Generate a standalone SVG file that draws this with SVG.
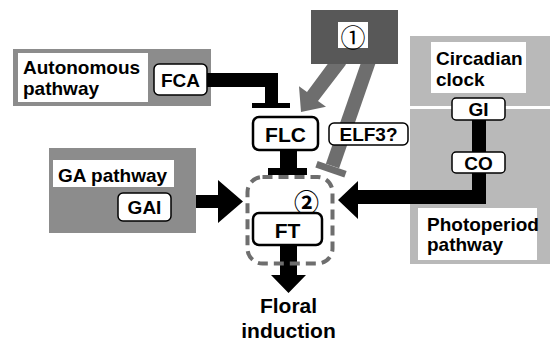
<svg xmlns="http://www.w3.org/2000/svg" width="550" height="343" viewBox="0 0 550 343">
<style>
.t{font-family:"Liberation Sans",Arial,sans-serif;font-weight:bold;fill:#000}
.lbl{font-size:19px}
.big{font-size:21px}
.mid{text-anchor:middle}
.box{fill:#fff;stroke:#000;stroke-width:1.5}
.boxb{fill:#fff;stroke:#000;stroke-width:2.5}
.wht{fill:#fff}
.cj{font-family:"Noto Sans CJK JP","Noto Sans CJK SC",sans-serif;text-anchor:middle;fill:#000}
</style>
<rect width="550" height="343" fill="#fff"/>

<g id="autonomous">
<rect x="13" y="49" width="198" height="57" fill="#8c8c8c"/>
<rect x="18" y="53" width="130" height="49" class="wht"/>
<text x="23" y="74" class="t lbl">Autonomous</text>
<text x="23" y="95" class="t lbl">pathway</text>
</g>
<g id="FCA">
<rect x="154" y="64" width="53" height="31" rx="5" class="box"/>
<text x="180.5" y="87" class="t lbl mid">FCA</text>
</g>

<g id="ga">
<rect x="49" y="148" width="147" height="85" fill="#8c8c8c"/>
<rect x="53" y="160" width="121" height="27" class="wht"/>
<text x="58" y="182" class="t lbl">GA pathway</text>
</g>
<g id="GAI">
<rect x="118" y="193" width="53" height="28" rx="5" class="box"/>
<text x="144.5" y="214" class="t lbl mid">GAI</text>
</g>

<g id="circadian">
<rect x="410" y="36" width="140" height="70" fill="#b9b9b9"/>
<rect x="431" y="42" width="95" height="51" class="wht"/>
<text x="436" y="65" class="t lbl">Circadian</text>
<text x="436" y="86" class="t lbl">clock</text>
</g>
<g id="photoperiod">
<rect x="410" y="109" width="140" height="155" fill="#b9b9b9"/>
<rect x="418" y="208" width="119" height="52" class="wht"/>
<text x="427" y="231" class="t lbl">Photoperiod</text>
<text x="427" y="251" class="t lbl">pathway</text>
</g>

<g id="connectors">
<!-- gray arrows from box 1 -->
<polygon points="334,55.5 307,92 299,86.3 301,112 326,106.7 318,101 346,64.5" fill="#6e6e6e"/>
<line x1="370" y1="58" x2="332.5" y2="166" stroke="#6e6e6e" stroke-width="14"/>
<line x1="316.5" y1="164.3" x2="345.5" y2="174.3" stroke="#6e6e6e" stroke-width="7"/>
<!-- FCA inhibits FLC -->
<polygon points="207,73 278,73 278,103 265,103 265,87 207,87" fill="#000"/>
<rect x="252" y="103" width="38" height="5" fill="#000"/>
<!-- FLC inhibits FT -->
<rect x="280" y="150" width="17" height="18" fill="#000"/>
<rect x="268" y="168" width="39" height="7" fill="#000"/>
<!-- GA arrow -->
<polygon points="196,195 218,195 218,180 243,201.5 218,223 218,208 196,208" fill="#000"/>
<!-- photoperiod arrow -->
<rect x="472" y="120" width="14" height="32" fill="#000"/>
<polygon points="486,173 486,204 358,204 358,219 338,200 358,181 358,190 472,190 472,173" fill="#000"/>
<!-- FT to floral induction -->
<polygon points="280,245 297,245 297,275 306,275 288.5,293 271,275 280,275" fill="#000"/>
</g>

<g id="box1">
<rect x="311" y="10" width="87" height="54" fill="#585858"/>
<rect x="338" y="22" width="30" height="26" class="wht"/>
<text x="353" y="46.5" class="cj" font-size="25">①</text>
</g>

<g id="ELF3">
<rect x="329" y="123" width="79" height="22" rx="5" class="box"/>
<text x="368.5" y="141" class="t lbl mid">ELF3?</text>
</g>

<g id="FLC">
<rect x="253" y="117" width="65" height="33" rx="6" class="boxb"/>
<text x="285.5" y="142" class="t big mid">FLC</text>
</g>

<g id="FTgroup">
<rect x="247.5" y="177" width="85" height="86.5" rx="15" fill="none" stroke="#6e6e6e" stroke-width="4" stroke-dasharray="10 6"/>
<text x="306.5" y="211.5" class="cj" font-size="25" font-weight="bold">②</text>
</g>
<g id="FT">
<rect x="253" y="213" width="69" height="32" rx="6" class="boxb"/>
<text x="287.5" y="238" class="t big mid">FT</text>
</g>

<g id="GI">
<rect x="452" y="98" width="53" height="22" rx="4" class="box"/>
<text x="478.5" y="116" class="t lbl mid">GI</text>
</g>
<g id="CO">
<rect x="452" y="152" width="53" height="21" rx="4" class="box"/>
<text x="478.5" y="169.5" class="t lbl mid">CO</text>
</g>

<g id="floral">
<text x="288.5" y="313" class="t big mid">Floral</text>
<text x="288.5" y="338" class="t big mid">induction</text>
</g>
</svg>
